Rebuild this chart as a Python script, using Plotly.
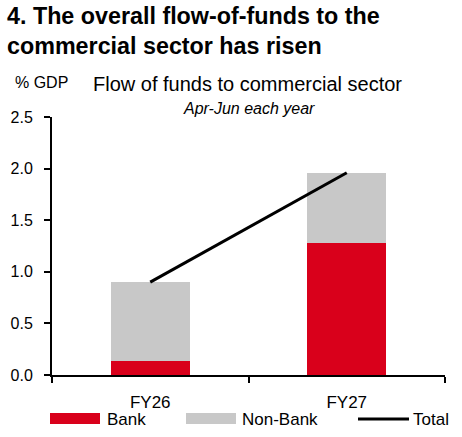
import plotly.graph_objects as go

categories = ["FY26", "FY27"]
bank = [0.14, 1.28]
non_bank = [0.76, 0.68]
total = [0.90, 1.96]
series_names = ["Bank", "Non-Bank", "Total"]
y_ticks = [0.0, 0.5, 1.0, 1.5, 2.0, 2.5]

RED = "#d9001b"
GRAY = "#c8c8c8"
FONT = "Liberation Sans, Arial, sans-serif"

W, H = 462, 437
L, R, T, B = 52, 17, 117, 62
PW, PH = W - L - R, H - T - B

def px(x):
    return (x - L) / PW

def py(y):
    return (H - B - y) / PH

fig = go.Figure()
fig.add_bar(x=categories, y=bank, name=series_names[0], marker=dict(color=RED, line=dict(width=0)), width=0.4, showlegend=False)
fig.add_bar(x=categories, y=non_bank, name=series_names[1], marker=dict(color=GRAY, line=dict(width=0)), width=0.4, showlegend=False)
fig.add_scatter(x=categories, y=total, name=series_names[2], mode="lines", line=dict(color="black", width=3), showlegend=False)

shapes = [
    dict(type="rect", xref="paper", yref="paper", x0=px(50), x1=px(100), y0=py(424), y1=py(413), fillcolor=RED, line=dict(width=0)),
    dict(type="rect", xref="paper", yref="paper", x0=px(186), x1=px(236), y0=py(424), y1=py(413), fillcolor=GRAY, line=dict(width=0)),
    dict(type="line", xref="paper", yref="paper", x0=px(358), x1=px(409), y0=py(419), y1=py(419), line=dict(color="black", width=3)),
]
annotations = [
    dict(text="<b>4. The overall flow-of-funds to the<br>commercial sector has risen</b>", xref="paper", yref="paper",
         x=px(5), y=py(31), xanchor="left", yanchor="middle", align="left", showarrow=False,
         font=dict(size=23.3, color="black", family=FONT)),
    dict(text="% GDP", xref="paper", yref="paper", x=px(13), y=py(82), xanchor="left", yanchor="middle",
         showarrow=False, font=dict(size=16, color="black", family=FONT)),
    dict(text="Flow of funds to commercial sector", xref="paper", yref="paper", x=px(247.5), y=py(84),
         xanchor="center", yanchor="middle", showarrow=False, font=dict(size=20, color="black", family=FONT)),
    dict(text="<i>Apr-Jun each year</i>", xref="paper", yref="paper", x=px(248.5), y=py(109),
         xanchor="center", yanchor="middle", showarrow=False, font=dict(size=16, color="black", family=FONT)),
    dict(text=series_names[0], xref="paper", yref="paper", x=px(105), y=py(419), xanchor="left", yanchor="middle",
         showarrow=False, font=dict(size=17, color="black", family=FONT)),
    dict(text=series_names[1], xref="paper", yref="paper", x=px(240), y=py(419), xanchor="left", yanchor="middle",
         showarrow=False, font=dict(size=17, color="black", family=FONT)),
    dict(text=series_names[2], xref="paper", yref="paper", x=px(411), y=py(419), xanchor="left", yanchor="middle",
         showarrow=False, font=dict(size=17, color="black", family=FONT)),
]

fig.update_layout(
    width=W, height=H,
    margin=dict(l=L, r=R, t=T, b=B, pad=0, autoexpand=False),
    barmode="stack",
    plot_bgcolor="white", paper_bgcolor="white",
    font=dict(family=FONT, size=16, color="black"),
    shapes=shapes, annotations=annotations,
    xaxis=dict(range=[-0.5, 1.5], showline=True, linecolor="black", linewidth=2, automargin=False,
               ticks="outside", tickson="boundaries", ticklen=6, tickwidth=2, tickcolor="black",
               showgrid=False, zeroline=False, tickfont=dict(size=17), ticklabelstandoff=11, fixedrange=True),
    yaxis=dict(range=[0, 2.5], tickvals=y_ticks, ticktext=[f"{v:.1f}" for v in y_ticks], automargin=False,
               showline=True, linecolor="black", linewidth=2,
               ticks="outside", ticklen=6, tickwidth=2, tickcolor="black",
               showgrid=False, zeroline=False, tickfont=dict(size=16), ticklabelstandoff=8, fixedrange=True),
)

fig.write_html("out.html", config={"displayModeBar": False},
               post_script="document.body.style.margin='0';document.body.style.padding='0';")
